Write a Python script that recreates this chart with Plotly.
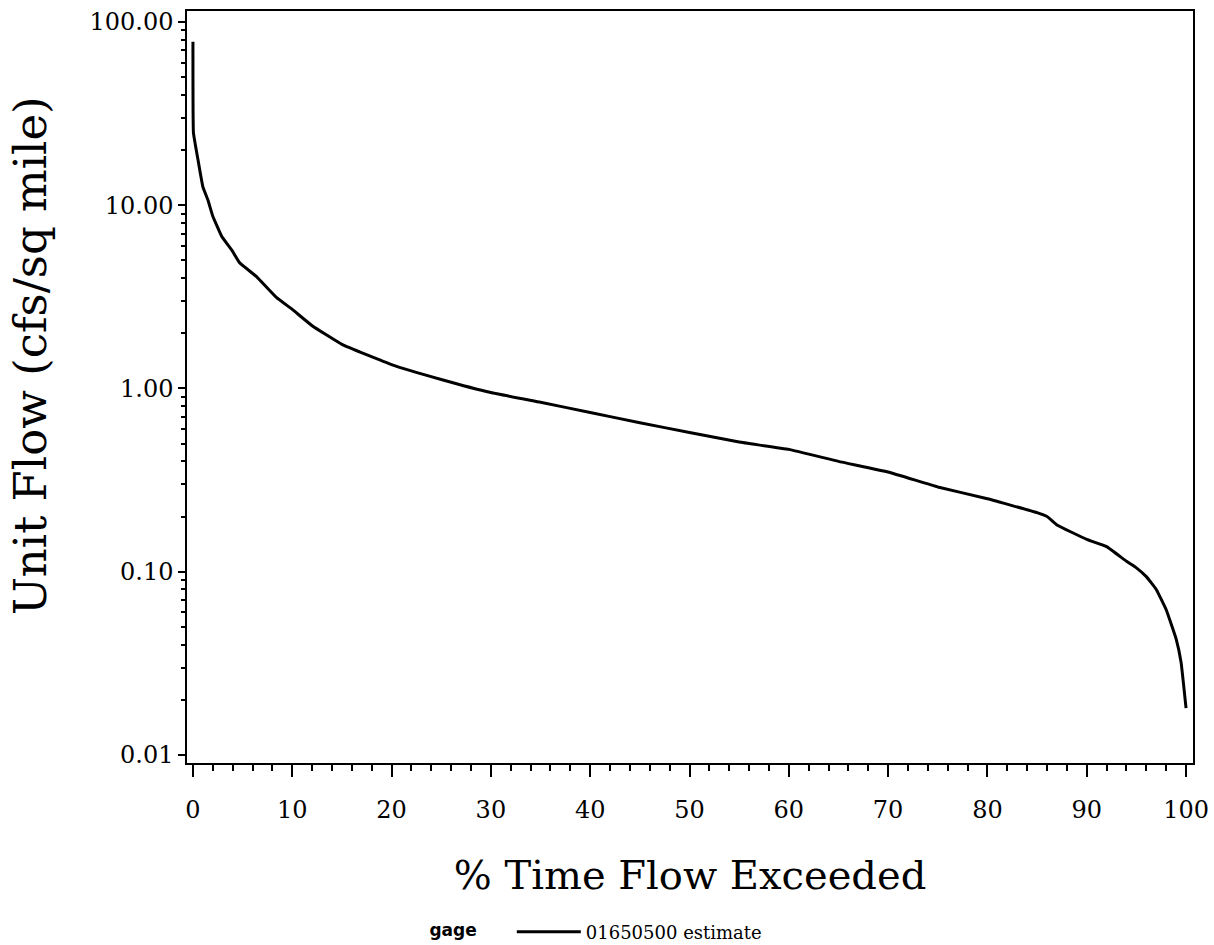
import plotly.graph_objects as go

# % time flow exceeded vs unit flow (cfs / sq mile)
pct = [0.0, 0.05, 0.5, 1.0, 1.5, 2.0, 2.9, 3.9, 4.7, 6.4, 8.4, 10.0, 12.0, 15.0,
       20.0, 25.0, 30.0, 35.0, 40.0, 45.0, 50.0, 55.0, 60.0, 65.0, 70.0, 75.0,
       80.0, 85.0, 86.0, 87.0, 90.0, 92.0, 94.0, 95.0, 96.0, 97.0, 98.0, 99.0,
       99.5, 100.0]
flow = [78.0, 24.8, 17.8, 12.6, 10.7, 8.7, 6.75, 5.7, 4.85, 4.08, 3.14, 2.7, 2.2, 1.74,
        1.35, 1.12, 0.95, 0.84, 0.74, 0.65, 0.575, 0.51, 0.465, 0.40, 0.35, 0.29,
        0.25, 0.21, 0.20, 0.18, 0.15, 0.137, 0.114, 0.105, 0.094, 0.08, 0.062, 0.043,
        0.032, 0.018]

series_name = "01650500 estimate"
legend_title = "gage"
x_title = "% Time Flow Exceeded"
y_title = "Unit Flow (cfs/sq mile)"

y_tickvals = [0.01, 0.1, 1, 10, 100]
y_ticktext = ["0.01", "0.10", "1.00", "10.00", "100.00"]
y_minor = [m * d for d in [0.01, 0.1, 1, 10] for m in range(2, 10)]
x_tickvals = [0, 10, 20, 30, 40, 50, 60, 70, 80, 90, 100]

FONT = "DejaVu Serif"

fig = go.Figure()
fig.add_trace(go.Scatter(
    x=pct, y=flow, mode="lines", name=series_name,
    line=dict(color="black", width=3, shape="spline", smoothing=0.3),
))

fig.update_layout(
    width=1214, height=945,
    margin=dict(l=187, r=21, t=11, b=182, autoexpand=False),
    paper_bgcolor="white", plot_bgcolor="white",
    font=dict(family=FONT, color="black", size=24),
    showlegend=True,
    legend=dict(
        orientation="h", x=0.239, xanchor="left",
        yref="container", y=0.0138, yanchor="middle",
        title=dict(text="<b>" + legend_title + "</b>     ",
                   font=dict(family="DejaVu Sans", size=17)),
        font=dict(family=FONT, size=18),
        itemwidth=64,
    ),
    annotations=[dict(
        text=y_title, textangle=-90, showarrow=False,
        xref="paper", x=-0.156, xanchor="center",
        yref="paper", y=(763 - 356) / 752, yanchor="middle",
        font=dict(size=45, family=FONT),
    )],
)

fig.update_xaxes(
    range=[-0.6, 100.7], tickvals=x_tickvals,
    ticks="outside", ticklen=12, tickwidth=1.5, tickcolor="black",
    ticklabelstandoff=12,
    minor=dict(dtick=2, tick0=0, ticks="outside", ticklen=6, tickwidth=1.5, tickcolor="black"),
    showline=True, linecolor="black", linewidth=1.5, mirror=True,
    showgrid=False, zeroline=False,
    tickfont=dict(size=24, family=FONT),
    title=dict(text=x_title, font=dict(size=40, family=FONT), standoff=38),
)
fig.update_yaxes(
    type="log", range=[-2.044, 2.06],
    tickvals=y_tickvals, ticktext=y_ticktext,
    ticks="outside", ticklen=7, tickwidth=1.5, tickcolor="black",
    minor=dict(tickvals=y_minor, ticks="outside", ticklen=4, tickwidth=1.5, tickcolor="black"),
    showline=True, linecolor="black", linewidth=1.5, mirror=True,
    showgrid=False, zeroline=False,
    tickfont=dict(size=24, family=FONT),
)

fig.write_html("out.html")
